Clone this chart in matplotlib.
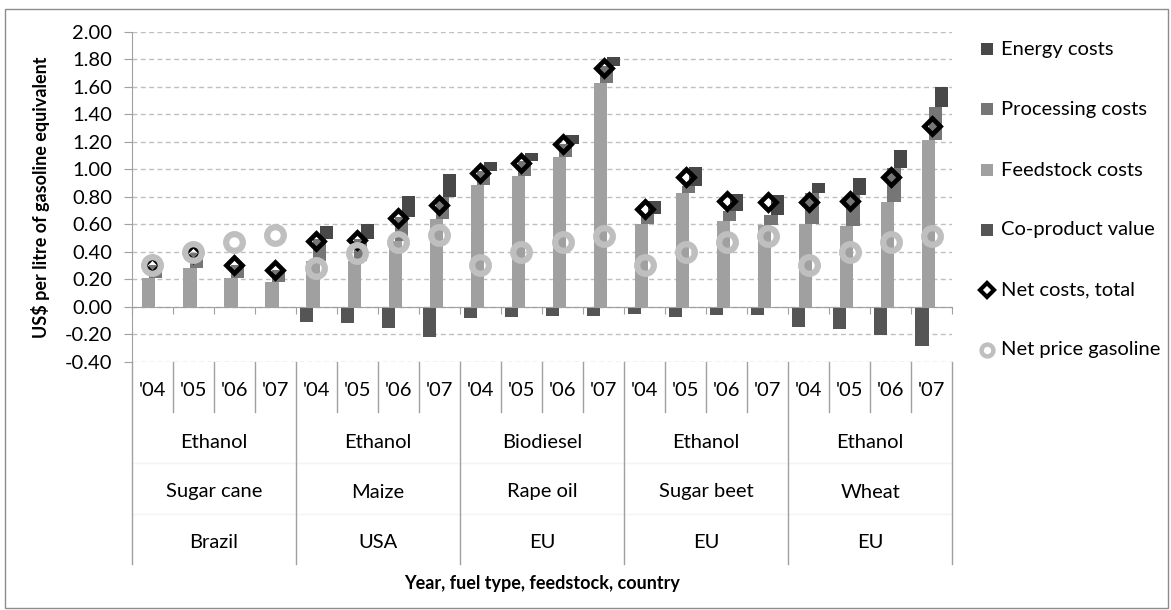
import matplotlib
matplotlib.use('Agg')
import matplotlib.pyplot as plt
import matplotlib.transforms as mtransforms
from matplotlib.lines import Line2D
from matplotlib.patches import Rectangle
import numpy as np

# ---------------- data ----------------
years = ["'04", "'05", "'06", "'07"] * 5
fuel_types = ["Ethanol", "Ethanol", "Biodiesel", "Ethanol", "Ethanol"]
feedstock_names = ["Sugar cane", "Maize", "Rape oil", "Sugar beet", "Wheat"]
countries = ["Brazil", "USA", "EU", "EU", "EU"]

feedstock_costs = [0.21, 0.28, 0.21, 0.18,
                   0.33, 0.33, 0.48, 0.64,
                   0.885, 0.95, 1.086, 1.627,
                   0.60, 0.824, 0.625, 0.597,
                   0.60, 0.589, 0.761, 1.215]
processing_costs = [0.09, 0.11, 0.09, 0.09,
                    0.16, 0.16, 0.17, 0.16,
                    0.105, 0.107, 0.10, 0.12,
                    0.074, 0.056, 0.068, 0.07,
                    0.224, 0.226, 0.247, 0.24]
energy_costs = [0.0, 0.0, 0.0, 0.0,
                0.095, 0.11, 0.155, 0.165,
                0.06, 0.06, 0.064, 0.066,
                0.097, 0.133, 0.127, 0.145,
                0.076, 0.123, 0.131, 0.145]
coproduct_value = [0.0, 0.0, 0.0, 0.0,
                   -0.11, -0.12, -0.155, -0.223,
                   -0.08, -0.073, -0.065, -0.068,
                   -0.05, -0.075, -0.058, -0.058,
                   -0.145, -0.162, -0.206, -0.286]
net_costs_total = [0.30, 0.39, 0.30, 0.27,
                   0.475, 0.485, 0.645, 0.74,
                   0.97, 1.045, 1.183, 1.736,
                   0.71, 0.94, 0.766, 0.759,
                   0.759, 0.771, 0.94, 1.311]
net_price_gasoline = [0.30, 0.40, 0.47, 0.52,
                      0.28, 0.39, 0.47, 0.52,
                      0.30, 0.40, 0.47, 0.515,
                      0.30, 0.40, 0.47, 0.515,
                      0.30, 0.40, 0.47, 0.515]

series_names = ["Energy costs", "Processing costs", "Feedstock costs",
                "Co-product value", "Net costs, total", "Net price gasoline"]
yticks = [-0.4, -0.2, 0.0, 0.2, 0.4, 0.6, 0.8, 1.0, 1.2, 1.4, 1.6, 1.8, 2.0]
ylabel = "US$ per litre of gasoline equivalent"
xlabel = "Year, fuel type, feedstock, country"

# ---------------- style ----------------
FONT = "Lato"
plt.rcParams['font.family'] = [FONT, 'DejaVu Sans']
C_ENERGY = "#484848"
C_PROC = "#767676"
C_FEED = "#A0A0A0"
C_COPROD = "#555555"
C_GAS = "#BFBFBF"
C_AXIS = "#A0A0A0"
FS = 14.5
FSB = 13

W, H = 1171, 610
fig = plt.figure(figsize=(W / 100, H / 100), dpi=100)


def fx(p):
    return p / W


def fy(p):
    return 1 - p / H


x_left, x_right, y_top, y_bot = 131.7, 952.3, 31.7, 361.7
ax = fig.add_axes([fx(x_left), fy(y_bot), fx(x_right) - fx(x_left), fy(y_top) - fy(y_bot)])

n = len(years)
x = np.arange(n)
feed = np.array(feedstock_costs)
proc = np.array(processing_costs)
ener = np.array(energy_costs)
copr = np.array(coproduct_value)

bw = 0.32
ax.bar(x - 0.08, feed, width=bw, color=C_FEED, zorder=2)
ax.bar(x + 0.08, proc, width=bw, bottom=feed, color=C_PROC, zorder=2)
ax.bar(x + 0.24, ener, width=bw, bottom=feed + proc, color=C_ENERGY, zorder=2)
ax.bar(x - 0.24, copr, width=bw, color=C_COPROD, zorder=2)

ax.plot(x, net_costs_total, linestyle='none', marker='D', ms=8, mfc='none',
        mec='black', mew=3.4, zorder=4)
ax.plot(x, net_price_gasoline, linestyle='none', marker='o', ms=12, mfc='none',
        mec=C_GAS, mew=4.5, zorder=5)

ax.set_xlim(-0.5, n - 0.5)
ax.set_ylim(-0.4, 2.0)
ax.set_yticks(yticks)
ax.set_yticklabels([f"{v:.2f}" for v in yticks], fontsize=FS)
ax.yaxis.grid(True, color="#BFBFBF", linestyle=(0, (3.5, 2.5)), linewidth=1.0)
ax.set_axisbelow(True)

for s in ['top', 'right']:
    ax.spines[s].set_visible(False)
ax.spines['left'].set_color(C_AXIS)
ax.spines['bottom'].set_color(C_AXIS)
ax.spines['bottom'].set_position(('data', 0))
ax.spines['bottom'].set_zorder(3)
ax.tick_params(axis='y', direction='out', length=6, color=C_AXIS, pad=8,
               labelcolor='black')
ax.set_xticks(np.arange(-0.5, n, 1.0))
ax.set_xticklabels([])
ax.tick_params(axis='x', direction='out', length=5, color=C_AXIS)

# ---------------- category table below ----------------
trans = mtransforms.blended_transform_factory(ax.transData, fig.transFigure)
for k in range(n + 1):
    xb = k - 0.5
    ybottom = 564.3 if k % 4 == 0 else 411.7
    fig.add_artist(Line2D([xb, xb], [fy(y_bot), fy(ybottom)], transform=trans,
                          color=C_AXIS, lw=1))
for yy in (463, 514):
    fig.add_artist(Line2D([-0.5, n - 0.5], [fy(yy), fy(yy)], transform=trans,
                          color="#F4F4F4", lw=1, zorder=0))

for i, yl in enumerate(years):
    fig.text(i, fy(390), yl, transform=trans, ha='center', va='center', fontsize=FS)
for g in range(5):
    cx = g * 4 + 1.5
    fig.text(cx, fy(442), fuel_types[g], transform=trans, ha='center', va='center', fontsize=FS)
    fig.text(cx, fy(492), feedstock_names[g], transform=trans, ha='center', va='center', fontsize=FS)
    fig.text(cx, fy(543), countries[g], transform=trans, ha='center', va='center', fontsize=FS)

fig.text(fx((x_left + x_right) / 2), fy(584), xlabel, ha='center', va='center',
         fontsize=FSB, fontweight='bold')
fig.text(fx(41), fy(197), ylabel, ha='center', va='center', rotation=90,
         fontsize=FSB, fontweight='bold')

# ---------------- legend ----------------
leg_y = [49, 109, 170, 230, 290, 350]
leg_handles = [
    dict(marker='s', ms=8.5, mfc=C_ENERGY, mec=C_ENERGY, mew=0),
    dict(marker='s', ms=8.5, mfc=C_PROC, mec=C_PROC, mew=0),
    dict(marker='s', ms=8.5, mfc=C_FEED, mec=C_FEED, mew=0),
    dict(marker='s', ms=8.5, mfc=C_COPROD, mec=C_COPROD, mew=0),
    dict(marker='D', ms=7, mfc='white', mec='black', mew=3.0),
    dict(marker='o', ms=8.5, mfc='white', mec=C_GAS, mew=3.2),
]
for name, yy, st in zip(series_names, leg_y, leg_handles):
    fig.add_artist(Line2D([fx(987)], [fy(yy)], transform=fig.transFigure,
                          linestyle='none', **st))
    fig.text(fx(1001), fy(yy), name, ha='left', va='center', fontsize=FS)

# ---------------- outer frame ----------------
fig.add_artist(Rectangle((fx(5), fy(608)), fx(1168) - fx(5), fy(9) - fy(608),
                         transform=fig.transFigure, fill=False,
                         edgecolor="#8C8C8C", lw=1))

fig.savefig("out.png", dpi=100)
